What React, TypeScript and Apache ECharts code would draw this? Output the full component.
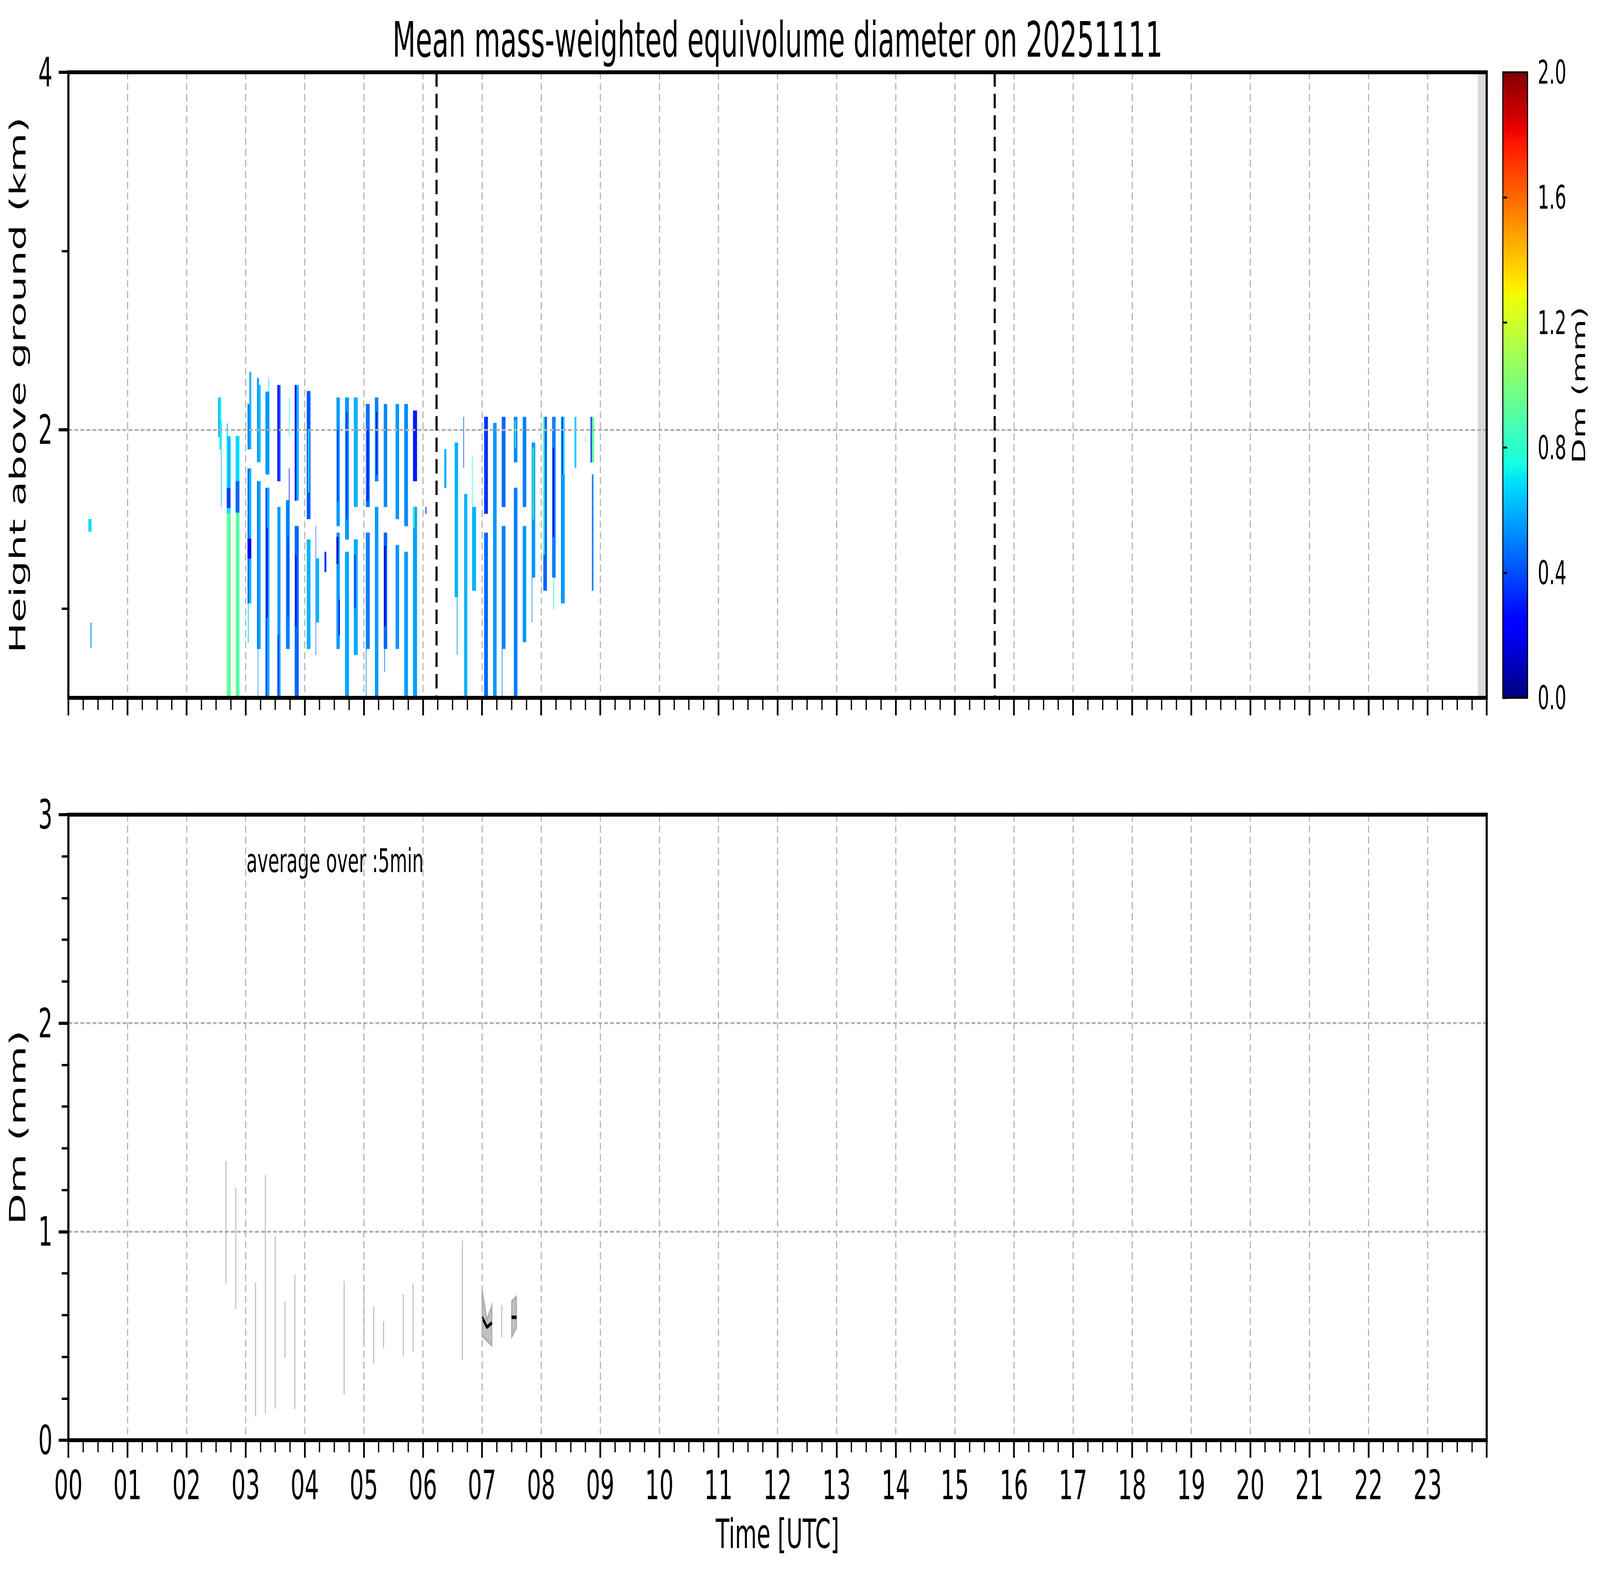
import React, { useEffect, useRef, useState } from 'react';
import * as echarts from 'echarts';

const W = 7442;
const H = 4031;
const FONT = 'DejaVu Sans';

// ---------- data ----------
// Top panel cells: [t0 (min UTC), t1 (min UTC), h0 (km), h1 (km), Dm (mm)]
const dmCells: number[][] = [
  [20.4, 23.4, 1.43, 1.5, 0.68],
  [22.6, 23.4, 0.78, 0.92, 0.55],
  [152.1, 153.5, 1.96, 2.18, 0.62],
  [153.5, 155.0, 1.89, 2.18, 0.72],
  [155.0, 155.5, 1.57, 2.05, 0.66],
  [160.9, 161.8, 1.674, 2.035, 0.7],
  [161.8, 164.6, 1.674, 1.963, 0.62],
  [160.9, 164.6, 1.561, 1.674, 0.38],
  [160.9, 164.6, 1.53, 1.561, 0.7],
  [160.9, 161.9, 0.5, 1.53, 0.92],
  [161.9, 162.6, 0.5, 1.53, 1.12],
  [162.6, 164.6, 0.5, 1.53, 0.86],
  [169.9, 173.6, 1.712, 1.965, 0.68],
  [169.9, 173.6, 1.536, 1.712, 0.45],
  [169.9, 170.8, 0.5, 1.536, 1.05],
  [170.8, 173.6, 0.5, 1.536, 0.88],
  [182.0, 183.8, 1.891, 2.144, 0.5],
  [183.8, 185.6, 1.891, 2.324, 0.6],
  [182.0, 183.6, 1.029, 1.783, 0.45],
  [183.6, 185.6, 1.029, 1.783, 0.6],
  [182.0, 185.6, 1.28, 1.39, 0.2],
  [182.3, 183.0, 0.81, 1.029, 0.7],
  [191.6, 193.4, 1.819, 2.289, 0.55],
  [193.4, 195.1, 1.819, 2.25, 0.62],
  [191.6, 193.0, 0.774, 1.712, 0.48],
  [193.0, 195.1, 0.774, 1.712, 0.58],
  [192.4, 192.8, 0.5, 0.774, 0.55],
  [200.2, 204.0, 1.75, 2.213, 0.55],
  [203.3, 203.8, 2.213, 2.289, 0.72],
  [200.2, 202.0, 0.5, 1.675, 0.42],
  [202.0, 204.0, 0.5, 1.675, 0.58],
  [201.3, 202.3, 0.95, 1.45, 0.2],
  [212.3, 213.6, 1.712, 2.25, 0.18],
  [213.6, 215.3, 1.712, 2.25, 0.4],
  [212.3, 215.3, 0.5, 1.568, 0.55],
  [212.6, 213.4, 0.5, 0.85, 0.3],
  [221.0, 224.6, 0.774, 1.605, 0.5],
  [222.5, 223.5, 0.95, 1.4, 0.35],
  [224.0, 224.4, 1.605, 1.783, 0.25],
  [224.1, 224.5, 1.963, 2.18, 0.75],
  [229.9, 231.6, 1.603, 2.25, 0.3],
  [231.6, 233.8, 1.603, 2.25, 0.6],
  [229.9, 233.8, 0.5, 1.461, 0.45],
  [230.5, 231.5, 0.9, 1.3, 0.25],
  [242.1, 245.7, 1.5, 2.216, 0.42],
  [243.5, 244.5, 1.65, 2.0, 0.75],
  [242.1, 245.7, 0.774, 1.386, 0.6],
  [251.1, 251.4, 0.74, 1.461, 0.4],
  [251.4, 254.5, 0.922, 1.28, 0.6],
  [260.1, 261.8, 1.204, 1.317, 0.35],
  [272.3, 275.5, 1.461, 2.18, 0.55],
  [273.0, 274.0, 1.6, 2.0, 0.35],
  [272.3, 275.5, 0.774, 1.424, 0.55],
  [272.3, 274.0, 1.25, 1.4, 0.15],
  [274.6, 275.5, 0.85, 1.05, 0.2],
  [281.0, 284.8, 1.386, 2.18, 0.55],
  [282.0, 283.2, 1.5, 2.1, 0.35],
  [281.0, 284.8, 0.5, 1.317, 0.58],
  [289.9, 293.7, 1.568, 2.18, 0.6],
  [289.9, 293.7, 0.74, 1.386, 0.58],
  [290.5, 291.5, 1.0, 1.3, 0.35],
  [302.1, 305.9, 1.568, 2.144, 0.48],
  [303.5, 304.6, 1.6, 2.0, 0.25],
  [302.1, 305.9, 0.774, 1.424, 0.5],
  [302.1, 302.6, 0.5, 0.774, 0.55],
  [311.3, 314.6, 1.712, 2.18, 0.5],
  [312.6, 313.4, 1.75, 2.1, 0.15],
  [311.3, 314.6, 0.5, 1.568, 0.55],
  [320.3, 323.6, 1.568, 2.144, 0.52],
  [320.3, 323.6, 0.774, 1.424, 0.45],
  [320.8, 322.0, 0.9, 1.35, 0.15],
  [320.8, 321.3, 0.646, 0.774, 0.5],
  [332.3, 335.7, 1.5, 2.144, 0.55],
  [332.3, 335.7, 0.774, 1.355, 0.55],
  [341.1, 344.7, 1.461, 2.144, 0.52],
  [341.1, 344.7, 0.5, 1.317, 0.56],
  [350.0, 353.9, 1.712, 2.107, 0.3],
  [350.0, 353.9, 0.5, 1.568, 0.57],
  [350.5, 351.5, 1.45, 1.568, 0.85],
  [362.6, 363.5, 1.53, 1.568, 0.4],
  [381.7, 383.7, 1.674, 1.891, 0.6],
  [392.3, 395.6, 1.063, 1.928, 0.6],
  [394.5, 395.0, 0.74, 1.063, 0.55],
  [401.1, 401.6, 1.787, 2.072, 0.45],
  [401.9, 404.9, 0.5, 1.64, 0.6],
  [410.0, 410.4, 1.568, 1.856, 0.8],
  [410.0, 413.8, 1.1, 1.568, 0.6],
  [422.2, 425.9, 1.53, 2.072, 0.35],
  [422.2, 425.9, 0.5, 1.424, 0.45],
  [431.3, 434.7, 0.5, 2.038, 0.55],
  [440.1, 443.7, 1.568, 2.072, 0.45],
  [440.1, 443.7, 0.774, 1.461, 0.5],
  [440.1, 440.6, 0.5, 0.774, 0.55],
  [452.4, 455.8, 1.818, 2.072, 0.52],
  [453.5, 454.2, 1.9, 2.05, 0.9],
  [452.4, 455.8, 0.5, 1.675, 0.5],
  [461.4, 464.8, 1.568, 2.072, 0.5],
  [461.4, 464.8, 0.812, 1.461, 0.55],
  [470.5, 473.9, 1.173, 1.928, 0.55],
  [471.5, 472.5, 1.5, 1.9, 0.85],
  [470.5, 471.0, 0.922, 1.173, 0.55],
  [482.3, 485.8, 1.1, 2.072, 0.45],
  [482.3, 483.5, 1.3, 2.072, 0.8],
  [491.2, 494.6, 1.173, 2.072, 0.5],
  [492.0, 493.0, 1.4, 1.9, 0.2],
  [492.5, 493.0, 0.994, 1.173, 0.8],
  [500.2, 503.8, 1.75, 2.072, 0.7],
  [501.0, 502.0, 1.75, 2.072, 0.2],
  [500.2, 503.8, 1.029, 1.75, 0.55],
  [514.0, 515.6, 1.787, 2.072, 0.65],
  [524.7, 525.2, 1.928, 1.963, 0.9],
  [530.3, 533.5, 1.818, 2.072, 0.9],
  [530.3, 531.2, 1.818, 2.072, 0.3],
  [531.6, 533.0, 1.1, 1.75, 0.5],
];

// grey "no data" span (hours) and vertical dashed reference lines (hours)
const noDataSpans: number[][] = [[23.85, 24.0]];
const refLinesHours: number[] = [6.23, 15.675];

// Bottom panel: 5-min averages
const avgTimesMin: number[] = [160, 170, 190, 200, 210, 220, 230, 280, 300, 310, 320, 340, 350, 400, 420, 425, 430, 440, 450, 455];
const avgUpper: number[] = [1.338, 1.21, 0.756, 1.272, 0.979, 0.665, 0.793, 0.764, 0.741, 0.644, 0.571, 0.699, 0.753, 0.957, 0.725, 0.579, 0.649, 0.649, 0.667, 0.69];
const avgLower: number[] = [0.752, 0.63, 0.114, 0.127, 0.152, 0.394, 0.15, 0.219, 0.48, 0.364, 0.442, 0.402, 0.424, 0.385, 0.499, 0.476, 0.453, 0.493, 0.493, 0.539];
const avgMean: (number | null)[] = [null, null, null, null, null, null, null, null, null, null, null, null, null, null, 0.59, 0.542, 0.563, null, 0.59, 0.589];

const hourLabels: string[] = ['00', '01', '02', '03', '04', '05', '06', '07', '08', '09', '10', '11', '12', '13', '14', '15', '16', '17', '18', '19', '20', '21', '22', '23'];
const heightMajorTicks: number[] = [2, 4];
const heightMinorTicks: number[] = [1, 3];

// ---------- jet colormap ----------
const JET_R = [[0, 0], [0.35, 0], [0.66, 1], [0.89, 1], [1, 0.5]];
const JET_G = [[0, 0], [0.125, 0], [0.375, 1], [0.64, 1], [0.91, 0], [1, 0]];
const JET_B = [[0, 0.5], [0.11, 1], [0.34, 1], [0.65, 0], [1, 0]];
function interp(pts: number[][], x: number): number {
  for (let i = 1; i < pts.length; i++) {
    if (x <= pts[i][0]) {
      const [x0, y0] = pts[i - 1];
      const [x1, y1] = pts[i];
      return y0 + ((y1 - y0) * (x - x0)) / (x1 - x0);
    }
  }
  return pts[pts.length - 1][1];
}
function jetFrac(x: number): string {
  const f = Math.max(0, Math.min(1, x));
  const r = Math.round(255 * interp(JET_R, f));
  const g = Math.round(255 * interp(JET_G, f));
  const b = Math.round(255 * interp(JET_B, f));
  return `rgb(${r},${g},${b})`;
}
const DM_MAX = 2;
const jet = (v: number) => jetFrac(v / DM_MAX);
const gradientStops = [0, 0.11, 0.125, 0.2, 0.34, 0.35, 0.375, 0.5, 0.64, 0.65, 0.66, 0.78, 0.89, 0.91, 1];

// ---------- layout ----------
const PLOT_L = 318;
const PLOT_W = 6597;
const TOP1 = 185;
const TOP2 = 2085;
const PLOT_H = 1601;
const CB_L = 6990;
const CB_W = 115;

const GRID_LINE = { show: true, lineStyle: { color: '#b0b0b0', width: 5, type: [18, 10] as any } };
const MAJOR_TICK = { show: true, length: 45, inside: false, lineStyle: { color: '#000', width: 8 } };
const MINOR_TICK = { show: true, length: 31, lineStyle: { color: '#000', width: 6 } };
const LABEL_FONT = { fontFamily: FONT, fontSize: 104, color: '#000' };

function frameSeries(xi: number, yi: number, x0: number, x1: number, y0: number, y1: number) {
  return {
    type: 'custom', xAxisIndex: xi, yAxisIndex: yi, z: 20, silent: true,
    data: [[x0, y0]],
    renderItem: (_p: any, api: any) => {
      const a = api.coord([x0, y1]);
      const b = api.coord([x1, y0]);
      return {
        type: 'rect',
        shape: { x: a[0], y: a[1], width: b[0] - a[0], height: b[1] - a[1] },
        style: { fill: 'none', stroke: '#000', lineWidth: 10 },
      };
    },
  };
}

function fitScale() {
  const vw = window.innerWidth || W;
  const vh = window.innerHeight || H;
  return { sx: Math.min(1, vw / W), sy: Math.min(1, vh / H) };
}

export default function App() {
  const ref = useRef<HTMLDivElement>(null);
  const [scale, setScale] = useState(fitScale);

  useEffect(() => {
    document.body.style.margin = '0';
    document.body.style.overflow = 'hidden';
    setScale(fitScale());
    if (!ref.current) return;
    const chart = echarts.init(ref.current, undefined, { renderer: 'svg', width: W, height: H });

    const avgGroups: number[][] = [];
    avgTimesMin.forEach((t, i) => {
      const last = avgGroups[avgGroups.length - 1];
      if (last && t - avgTimesMin[last[last.length - 1]] <= 5) last.push(i);
      else avgGroups.push([i]);
    });

    const option: any = {
      animation: false,
      backgroundColor: '#fff',
      textStyle: { fontFamily: FONT },
      grid: [
        { left: PLOT_L, top: TOP1, width: PLOT_W, height: PLOT_H, show: false, outerBoundsMode: 'none', containLabel: false },
        { left: PLOT_L, top: TOP2, width: PLOT_W, height: PLOT_H, show: false, outerBoundsMode: 'none', containLabel: false },
        { left: CB_L, top: TOP1, width: CB_W, height: PLOT_H, show: false, outerBoundsMode: 'none', containLabel: false },
      ],
      xAxis: [
        {
          gridIndex: 0, type: 'value', min: 0, max: 24, interval: 1, z: 5,
          axisLine: { show: false }, axisTick: MAJOR_TICK,
          minorTick: { ...MINOR_TICK, splitNumber: 4 }, minorSplitLine: { show: false },
          axisLabel: { show: false }, splitLine: GRID_LINE,
        },
        {
          gridIndex: 1, type: 'value', min: 0, max: 24, interval: 1, z: 5,
          axisLine: { show: false }, axisTick: MAJOR_TICK,
          minorTick: { ...MINOR_TICK, splitNumber: 4 }, minorSplitLine: { show: false },
          axisLabel: { ...LABEL_FONT, margin: 63, formatter: (v: number) => hourLabels[Math.round(v)] ?? '' },
          splitLine: GRID_LINE,
          name: 'Time [UTC]', nameLocation: 'middle', nameGap: 188,
          nameTextStyle: LABEL_FONT,
        },
        { gridIndex: 2, type: 'value', min: 0, max: 1, show: false },
      ],
      yAxis: [
        {
          gridIndex: 0, type: 'value', min: 0.5, max: 4, position: 'left', z: 5,
          axisLine: { show: false },
          axisTick: { ...MAJOR_TICK, customValues: heightMajorTicks },
          axisLabel: { ...LABEL_FONT, margin: 74, customValues: heightMajorTicks, formatter: (v: number) => String(v) },
          splitLine: GRID_LINE,
          name: 'Height above ground (km)', nameLocation: 'middle', nameGap: 184, nameRotate: 90,
          nameTextStyle: LABEL_FONT,
        },
        {
          gridIndex: 0, type: 'value', min: 0.5, max: 4, position: 'left', offset: 0, z: 5,
          axisLine: { show: false },
          axisTick: { ...MINOR_TICK, customValues: heightMinorTicks },
          axisLabel: { show: false }, splitLine: { show: false },
        },
        {
          gridIndex: 1, type: 'value', min: 0, max: 3, interval: 1, position: 'left', z: 5,
          axisLine: { show: false }, axisTick: MAJOR_TICK,
          minorTick: { ...MINOR_TICK, splitNumber: 5 }, minorSplitLine: { show: false },
          axisLabel: { ...LABEL_FONT, margin: 74 },
          splitLine: GRID_LINE,
          name: 'Dm (mm)', nameLocation: 'middle', nameGap: 184, nameRotate: 90,
          nameTextStyle: LABEL_FONT,
        },
        {
          gridIndex: 2, type: 'value', min: 0, max: 2, interval: 0.4, position: 'right', z: 5,
          axisLine: { show: false },
          axisTick: { show: true, length: 20, lineStyle: { color: '#000', width: 5 } },
          axisLabel: { fontFamily: FONT, fontSize: 84, color: '#000', margin: 47, formatter: (v: number) => v.toFixed(1) },
          splitLine: { show: false },
          name: 'Dm (mm)', nameLocation: 'middle', nameGap: 196, nameRotate: 90,
          nameTextStyle: { fontFamily: FONT, fontSize: 84, color: '#000' },
        },
      ],
      graphic: [
        {
          type: 'text', x: PLOT_L + PLOT_W / 2, y: 102, silent: true,
          style: { text: 'Mean mass-weighted equivolume diameter on 20251111', fontFamily: FONT, fontSize: 125, fill: '#000', align: 'center', verticalAlign: 'middle' },
        },
        {
          type: 'text', x: 1146, y: 2203, silent: true, z: 10,
          style: { text: 'average over :5min', fontFamily: FONT, fontSize: 84, fill: '#000', align: 'left', verticalAlign: 'middle' },
        },
      ],
      series: [
        {
          type: 'custom', name: 'no data', xAxisIndex: 0, yAxisIndex: 0, z: 1,
          data: noDataSpans,
          renderItem: (_p: any, api: any) => {
            const a = api.coord([api.value(0), 4]);
            const b = api.coord([api.value(1), 0.5]);
            return { type: 'rect', shape: { x: a[0], y: a[1], width: b[0] - a[0], height: b[1] - a[1] }, style: { fill: '#d9d9d9' } };
          },
        },
        {
          type: 'custom', name: 'Dm', xAxisIndex: 0, yAxisIndex: 0, z: 2, clip: true,
          data: dmCells.map((c) => [c[0] / 60, c[1] / 60, c[2], c[3], c[4]]),
          renderItem: (_p: any, api: any) => {
            const a = api.coord([api.value(0), api.value(3)]);
            const b = api.coord([api.value(1), api.value(2)]);
            const col = jet(api.value(4));
            return {
              type: 'rect',
              shape: { x: a[0], y: a[1], width: b[0] - a[0], height: b[1] - a[1] },
              style: { fill: col, stroke: col, lineWidth: 0.6 },
            };
          },
        },
        {
          type: 'custom', name: 'ref lines', xAxisIndex: 0, yAxisIndex: 0, z: 6,
          data: refLinesHours.map((t) => [t]),
          renderItem: (_p: any, api: any) => {
            const a = api.coord([api.value(0), 4]);
            const b = api.coord([api.value(0), 0.5]);
            return { type: 'line', shape: { x1: a[0], y1: a[1], x2: b[0], y2: b[1] }, style: { stroke: '#000', lineWidth: 10, lineDash: [37, 18] } };
          },
        },
        {
          type: 'custom', name: 'spread', xAxisIndex: 1, yAxisIndex: 2, z: 2,
          data: avgGroups.map((g, i) => [avgTimesMin[g[0]] / 60, i]),
          renderItem: (p: any, api: any) => {
            const g = avgGroups[p.dataIndex];
            const up = g.map((i) => api.coord([avgTimesMin[i] / 60, avgUpper[i]]));
            const lo = g.map((i) => api.coord([avgTimesMin[i] / 60, avgLower[i]])).reverse();
            return {
              type: 'polygon',
              shape: { points: up.concat(lo) },
              style: { fill: 'rgba(128,128,128,0.5)', stroke: 'rgba(128,128,128,0.5)', lineWidth: 5 },
            };
          },
        },
        {
          type: 'line', name: 'mean', xAxisIndex: 1, yAxisIndex: 2, z: 4,
          showSymbol: false, symbol: 'none', connectNulls: false,
          lineStyle: { color: '#000', width: 9 },
          data: avgTimesMin.map((t, i) => [t / 60, avgMean[i] === null ? '-' : avgMean[i]]),
        },
        {
          type: 'custom', name: 'colorbar', xAxisIndex: 2, yAxisIndex: 3, z: 2,
          data: [[0, 0, 1, DM_MAX]],
          renderItem: (_p: any, api: any) => {
            const a = api.coord([0, DM_MAX]);
            const b = api.coord([1, 0]);
            const shape = { x: a[0], y: a[1], width: b[0] - a[0], height: b[1] - a[1] };
            return {
              type: 'group',
              children: [
                {
                  type: 'rect', shape,
                  style: {
                    fill: new echarts.graphic.LinearGradient(0, 1, 0, 0, gradientStops.map((o) => ({ offset: o, color: jetFrac(o) }))),
                  },
                },
                { type: 'rect', shape, style: { fill: 'none', stroke: '#000', lineWidth: 5 } },
              ],
            };
          },
        },
        frameSeries(0, 0, 0, 24, 0.5, 4),
        frameSeries(1, 2, 0, 24, 0, 3),
      ],
    };

    chart.setOption(option);
    return () => chart.dispose();
  }, []);

  return (
    <div style={{ width: Math.round(W * scale.sx), height: Math.round(H * scale.sy), overflow: 'hidden', position: 'relative' }}>
      <div
        ref={ref}
        style={{ width: W, height: H, transform: `scale(${scale.sx}, ${scale.sy})`, transformOrigin: '0 0', position: 'absolute', left: 0, top: 0 }}
      />
    </div>
  );
}
